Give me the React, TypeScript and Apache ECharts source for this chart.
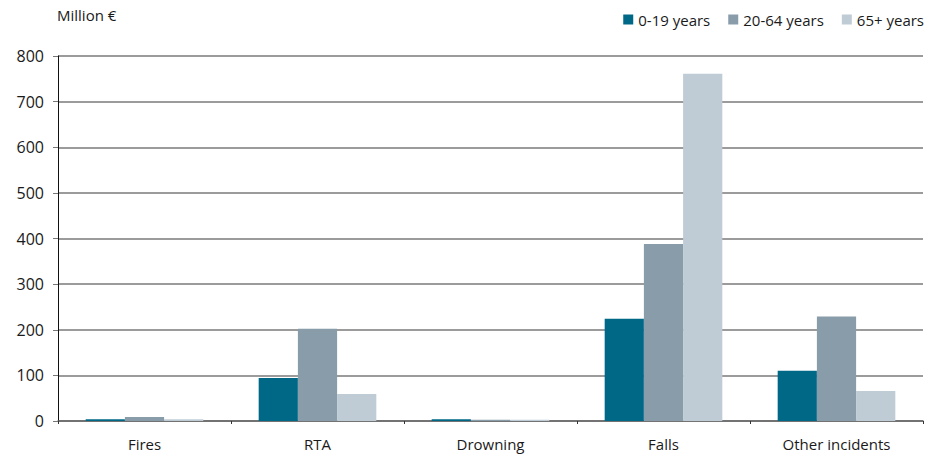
import React, { useEffect, useRef } from "react";
import * as echarts from "echarts";

const categories = ["Fires", "RTA", "Drowning", "Falls", "Other incidents"];
const seriesNames = ["0-19 years", "20-64 years", "65+ years"];
const young = [4, 94, 4, 224, 110];
const adults = [9, 202, 3, 388, 229];
const seniors = [4, 59, 3, 761, 66];
const colors = ["#006887", "#889da9", "#bfccd5"];
const yTicks = [0, 100, 200, 300, 400, 500, 600, 700, 800];

export default function App() {
  const ref = useRef<HTMLDivElement>(null);
  useEffect(() => {
    if (!ref.current) return;
    const chart = echarts.init(ref.current, undefined, { renderer: "svg" });
    const font = "'Open Sans', 'Noto Sans', sans-serif";
    const data = [young, adults, seniors];
    chart.setOption({
      animation: false,
      textStyle: { fontFamily: font },
      grid: { left: 58, right: 12, top: 56, bottom: 36, containLabel: false },
      legend: {
        top: 7,
        right: 6,
        itemWidth: 10,
        itemHeight: 10,
        itemGap: 18,
        icon: "rect",
        textStyle: { fontSize: 15, color: "#1a1a1a", fontFamily: font },
        data: seriesNames,
      },
      graphic: [
        {
          type: "text",
          left: 57,
          top: 7,
          style: { text: "Million €", fontSize: 15, fill: "#1a1a1a", fontFamily: font },
        },
      ],
      xAxis: {
        type: "category",
        data: categories,
        axisLine: { lineStyle: { color: "#666", width: 1.5 } },
        axisTick: { show: true, length: 3, lineStyle: { color: "#333" } },
        axisLabel: { fontSize: 15, color: "#1a1a1a", margin: 15 },
      },
      yAxis: {
        type: "value",
        min: yTicks[0],
        max: yTicks[yTicks.length - 1],
        interval: 100,
        axisLine: { show: true, lineStyle: { color: "#111", width: 1 } },
        axisTick: { show: true, length: 5, lineStyle: { color: "#777" } },
        axisLabel: { fontSize: 16, color: "#1a1a1a", margin: 14 },
        splitLine: { lineStyle: { color: "#7a7a7a", width: 1.5 } },
      },
      series: seriesNames.map((name, i) => ({
        name,
        type: "bar",
        data: data[i],
        barGap: "0%",
        barCategoryGap: "32%",
        itemStyle: { color: colors[i] },
      })),
    });
    return () => chart.dispose();
  }, []);
  return <div ref={ref} style={{ width: 935, height: 457, position: "absolute", left: 0, top: 0 }} />;
}
